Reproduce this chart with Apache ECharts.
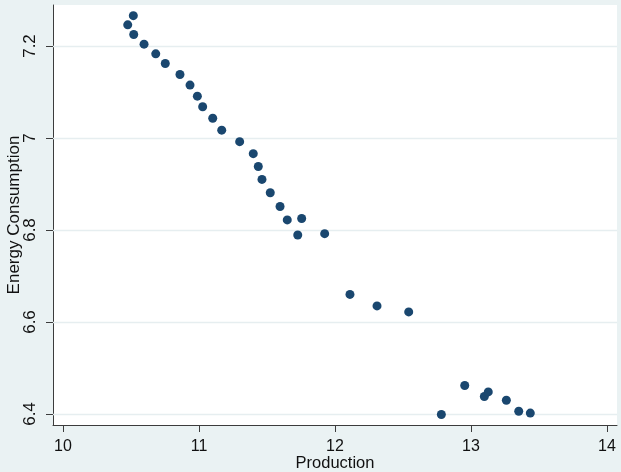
<!DOCTYPE html>
<html>
<head>
<meta charset="utf-8">
<script src="https://cdn.jsdelivr.net/npm/echarts@6/dist/echarts.min.js"></script>
<style>
html,body{margin:0;padding:0;background:#EAF2F3;}
#chart{width:621px;height:472px;}
</style>
</head>
<body>
<div id="chart"></div>
<script>
const production = [10.476, 10.517, 10.52, 10.596, 10.682, 10.752, 10.86, 10.934, 10.988, 11.027, 11.101, 11.167,
  11.299, 11.399, 11.436, 11.463, 11.524, 11.596, 11.649, 11.755, 11.726, 11.924,
  12.11, 12.309, 12.542, 12.782, 12.954, 13.098, 13.127, 13.26, 13.351, 13.436];
const energy = [7.246, 7.266, 7.225, 7.204, 7.183, 7.162, 7.138, 7.115, 7.091, 7.068, 7.043, 7.017,
  6.992, 6.966, 6.938, 6.910, 6.881, 6.851, 6.822, 6.825, 6.789, 6.792,
  6.660, 6.635, 6.622, 6.399, 6.462, 6.438, 6.448, 6.430, 6.406, 6.402];
const xTicks = [10, 11, 12, 13, 14];
const yTicks = [6.4, 6.6, 6.8, 7, 7.2];

const pts = production.map((x, i) => [x, energy[i]]);
const font = '"Liberation Sans", Arial, sans-serif';
const axisColor = '#3c3c3c';

const chart = echarts.init(document.getElementById('chart'), null, {renderer: 'canvas'});
chart.setOption({
  backgroundColor: '#EAF2F3',
  animation: false,
  grid: {left: 53, right: 4, top: 5, bottom: 47, show: true, backgroundColor: '#ffffff', borderWidth: 0,
         containLabel: false, outerBoundsMode: 'none'},
  xAxis: {
    type: 'value', min: 9.9265, max: 14.0735,
    name: 'Production', nameLocation: 'middle', nameGap: 30, nameMoveOverlap: false,
    nameTextStyle: {fontFamily: font, fontSize: 16.5, color: '#111'},
    axisLine: {show: true, lineStyle: {color: axisColor, width: 1}},
    axisTick: {show: true, length: 7, lineStyle: {color: axisColor}, customValues: xTicks},
    axisLabel: {fontFamily: font, fontSize: 16, color: '#111', margin: 14, customValues: xTicks},
    splitLine: {show: false}
  },
  yAxis: {
    type: 'value', min: 6.3761, max: 7.2891,
    name: 'Energy Consumption', nameLocation: 'middle', nameGap: 30, nameRotate: 90, nameMoveOverlap: false,
    nameTextStyle: {fontFamily: font, fontSize: 17, color: '#111'},
    axisLine: {show: true, lineStyle: {color: axisColor, width: 1}},
    axisTick: {show: true, length: 7, lineStyle: {color: axisColor}, customValues: yTicks},
    axisLabel: {fontFamily: font, fontSize: 17, color: '#111', margin: 14, rotate: 90, customValues: yTicks},
    splitLine: {show: false}
  },
  series: [{
    type: 'scatter',
    data: pts,
    symbol: 'circle',
    symbolSize: 9,
    clip: false,
    itemStyle: {color: '#1A476F', opacity: 1},
    markLine: {
      silent: true, symbol: ['none', 'none'], label: {show: false},
      lineStyle: {color: '#E6EEF0', width: 1.3, type: 'solid'},
      data: yTicks.map(v => ({yAxis: v})),
      z: 1
    }
  }]
});
</script>
</body>
</html>
